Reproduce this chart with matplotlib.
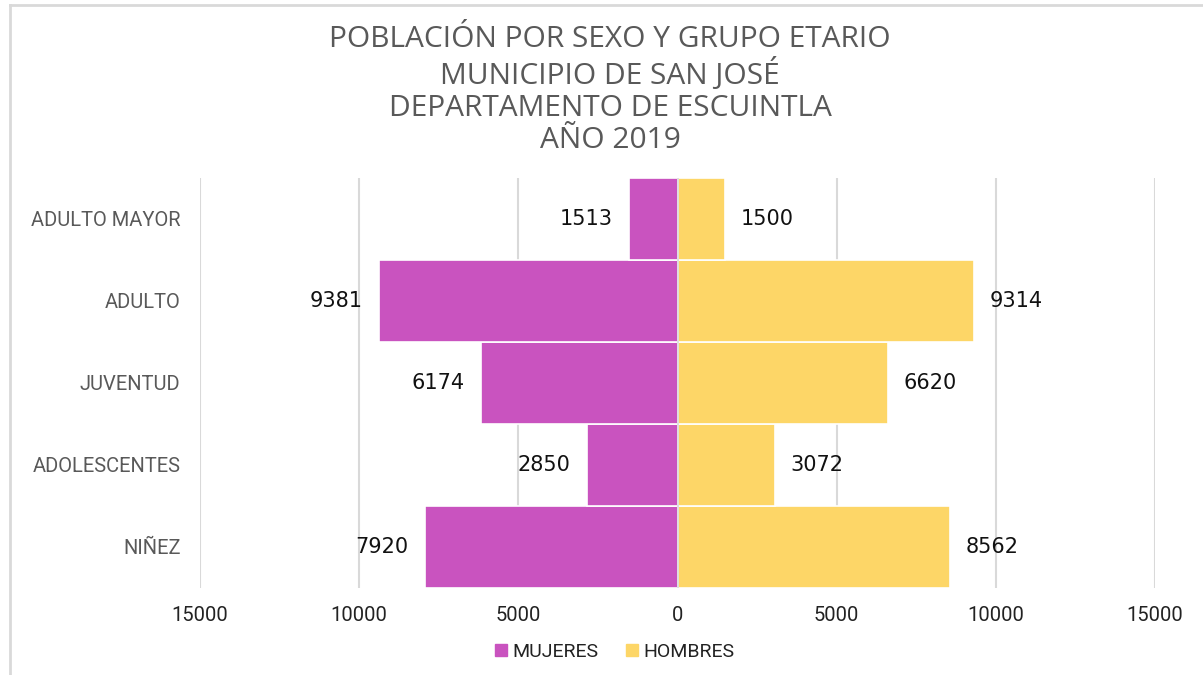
import matplotlib
matplotlib.use("Agg")
import matplotlib.pyplot as plt
from matplotlib.lines import Line2D
from matplotlib.patches import Patch
from matplotlib.ticker import FuncFormatter

categories = ["NIÑEZ", "ADOLESCENTES", "JUVENTUD", "ADULTO", "ADULTO MAYOR"]
mujeres = [7920, 2850, 6174, 9381, 1513]
hombres = [8562, 3072, 6620, 9314, 1500]
xticks = [-15000, -10000, -5000, 0, 5000, 10000, 15000]
title_lines = ["POBLACIÓN POR SEXO Y GRUPO ETARIO", "MUNICIPIO DE SAN JOSÉ",
               "DEPARTAMENTO DE ESCUINTLA", "AÑO 2019"]

C_MUJ = "#C953BF"
C_HOM = "#FDD667"

fig = plt.figure(figsize=(12.03, 6.75), dpi=100)
W, H = 1203, 675
ax = fig.add_axes([200 / W, 1 - 588 / H, (1155 - 200) / W, (588 - 178) / H])

y = list(range(len(categories)))
ax.barh(y, [-v for v in mujeres], height=1.0, color=C_MUJ, edgecolor="white", linewidth=1.2, zorder=3)
ax.barh(y, hombres, height=1.0, color=C_HOM, edgecolor="white", linewidth=1.2, zorder=3)

ax.set_xlim(-15000, 15000)
ax.set_ylim(-0.5, len(categories) - 0.5)
ax.set_xticks(xticks)
ax.xaxis.set_major_formatter(FuncFormatter(lambda v, p: f"{abs(int(v))}"))
ax.set_yticks(y)
ax.set_yticklabels(categories)
ax.grid(axis="x", color="#D9D9D9", linewidth=1.5, zorder=0)
ax.axvline(0, color="#D9D9D9", linewidth=1.2, zorder=4)
for s in ax.spines.values():
    s.set_visible(False)
ax.tick_params(axis="both", length=0)
ax.tick_params(axis="x", pad=13, labelsize=14.5, labelcolor="#222222")
ax.tick_params(axis="y", pad=14, labelsize=14.5, labelcolor="#595959")
for t in ax.get_xticklabels():
    t.set_fontfamily(["Liberation Sans Narrow", "Roboto", "DejaVu Sans"])
for t in ax.get_yticklabels():
    t.set_fontfamily(["Liberation Sans Narrow", "Roboto", "DejaVu Sans"])

lab_font = dict(fontsize=15, color="#111111", family=["DejaVu Sans"], va="center")
for i, (m, h) in enumerate(zip(mujeres, hombres)):
    ax.annotate(f"{m}", xy=(-m, i), xytext=(-12, 0), textcoords="offset points", ha="right", **lab_font)
    ax.annotate(f"{h}", xy=(h, i), xytext=(11, 0), textcoords="offset points", ha="left", **lab_font)

fig.text(610 / W, 1 - 90 / H, "\n".join(title_lines), ha="center", va="center",
         fontsize=21.5, color="#595959", family=["Open Sans", "DejaVu Sans"], linespacing=1.14)

handles = [Patch(color=C_MUJ, label="MUJERES"), Patch(color=C_HOM, label="HOMBRES")]
leg = fig.legend(handles=handles, loc="center", bbox_to_anchor=(615 / W, 1 - 652 / H), ncol=2,
                 frameon=False, handlelength=0.6, handleheight=0.6, handletextpad=0.3, columnspacing=1.4,
                 prop={"family": ["Liberation Sans Narrow", "Roboto", "DejaVu Sans"], "size": 14})
for t in leg.get_texts():
    t.set_color("#222222")

fig.add_artist(Line2D([10 / W, 1], [1 - 5 / H, 1 - 5 / H], color="#D9D9D9", linewidth=2, transform=fig.transFigure))
fig.add_artist(Line2D([10 / W, 10 / W], [0, 1 - 5 / H], color="#D9D9D9", linewidth=2, transform=fig.transFigure))

fig.savefig("out.png", dpi=100, facecolor="white")
